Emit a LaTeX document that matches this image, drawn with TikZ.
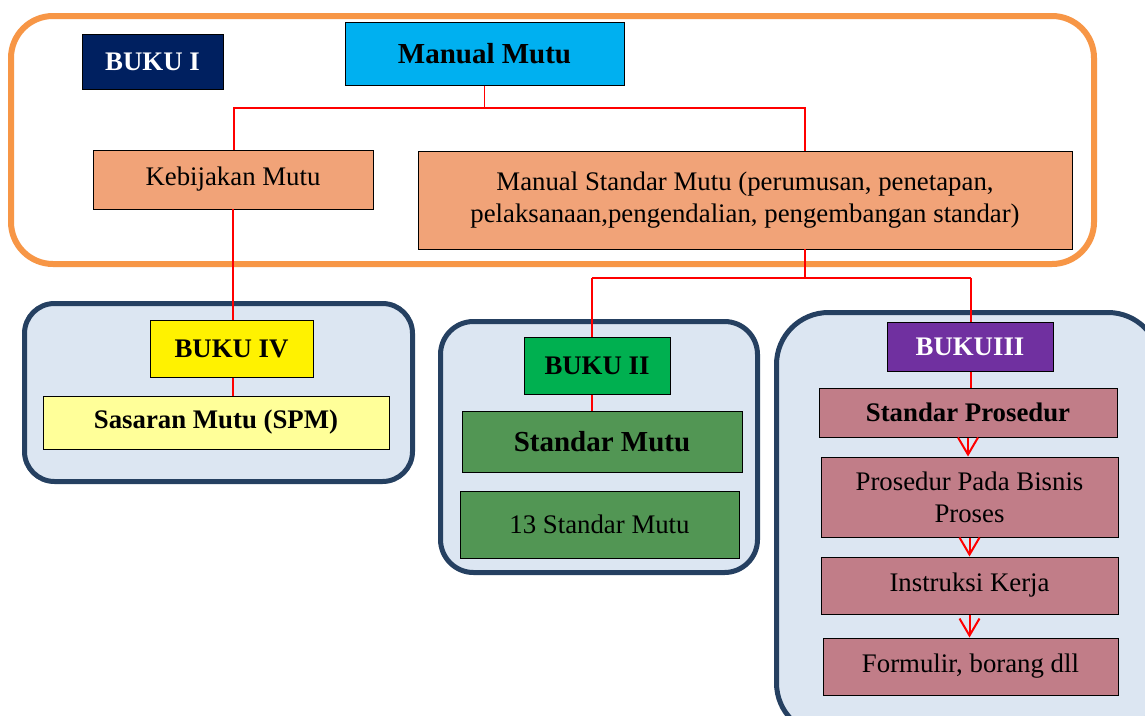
\documentclass[tikz,border=0pt]{standalone}
\usepackage{fontspec}
\setmainfont{Liberation Serif}
\usetikzlibrary{arrows.meta}

\definecolor{navyI}{HTML}{002060}
\definecolor{skyblue}{HTML}{00B0F0}
\definecolor{salmon}{HTML}{F1A378}
\definecolor{ornge}{HTML}{F79646}
\definecolor{frameblue}{HTML}{254061}
\definecolor{panelfill}{HTML}{DCE6F2}
\definecolor{lightyellow}{HTML}{FFFF99}
\definecolor{brightgreen}{HTML}{00B050}
\definecolor{midgreen}{HTML}{529654}
\definecolor{purpleIII}{HTML}{7030A0}
\definecolor{rose}{HTML}{C17D88}
\definecolor{linkred}{HTML}{FF0000}

\tikzset{
  box/.style={draw=black, line width=1pt, rectangle, inner sep=0pt, align=center,
    text=black, font=\fontsize{26.8}{32}\selectfont},
  boldbox/.style={box, font=\fontsize{26.8}{32}\selectfont\bfseries},
  panel/.style={draw=frameblue, line width=5pt, fill=panelfill},
  link/.style={draw=linkred, line width=1.5pt},
  flow/.style={draw=linkred, line width=2pt, -{Straight Barb[length=17pt,width=20pt,line width=2pt]}},
}

\begin{document}
\begin{tikzpicture}[x=1pt, y=-1pt]
\useasboundingbox (0,0) rectangle (1145,715);
\clip (0,0) rectangle (1145,715);
\fill[white] (0,0) rectangle (1145,715);

% containers
\draw[draw=ornge, line width=6pt, rounded corners=42pt] (11,16) rectangle (1094,264);
\draw[panel, rounded corners=30pt] (24.5,303.5) rectangle (412.5,481.5);
\draw[panel, rounded corners=33pt] (440.5,321.5) rectangle (757.5,572.5);
\draw[panel, rounded corners=52pt] (776.5,312.5) rectangle (1160,735);

% book I
\node[boldbox, fill=navyI, text=white, minimum width=141pt, minimum height=55pt] (bukuI) at (152.5,61.5) {BUKU I};
\node[boldbox, fill=skyblue, minimum width=279pt, minimum height=63pt, font=\fontsize{29}{33}\selectfont\bfseries] (manual) at (484.5,53.5) {Manual Mutu};
\node[box, fill=salmon, minimum width=280pt, minimum height=59pt] (kebijakan) at (233,179.5) {Kebijakan Mutu};
\node[box, fill=salmon, minimum width=654pt, minimum height=98pt] (msm) at (745,200)
  {Manual Standar Mutu (perumusan, penetapan,\\pelaksanaan,pengendalian, pengembangan standar)};

% book IV
\node[boldbox, fill=yellow, minimum width=163pt, minimum height=57pt] (bukuIV) at (231.5,348.5) {BUKU IV};
\node[boldbox, fill=lightyellow, minimum width=346pt, minimum height=53pt] (sasaran) at (216,422.5) {Sasaran Mutu (SPM)};

% book II
\node[boldbox, fill=brightgreen, minimum width=146pt, minimum height=57pt] (bukuII) at (597,365.5) {BUKU II};
\node[boldbox, fill=midgreen, minimum width=280pt, minimum height=61pt, font=\fontsize{29}{33}\selectfont\bfseries] (stdmutu) at (602,441.5) {Standar Mutu};
\node[box, fill=midgreen, minimum width=279pt, minimum height=67pt] (std13) at (599.5,524.5) {13 Standar Mutu};

% book III
\node[boldbox, fill=purpleIII, text=white, minimum width=166pt, minimum height=49pt] (bukuIII) at (970,346.5) {BUKUIII};
\node[boldbox, fill=rose, minimum width=298pt, minimum height=49pt] (stdpros) at (968,412.5) {Standar Prosedur};
\node[box, fill=rose, minimum width=297pt, minimum height=80pt] (bisnis) at (969.5,497) {Prosedur Pada Bisnis\\Proses};
\node[box, fill=rose, minimum width=297pt, minimum height=57pt] (instruksi) at (969.5,585.5) {Instruksi Kerja};
\node[box, fill=rose, minimum width=295pt, minimum height=57pt] (formulir) at (970.5,666.5) {Formulir, borang dll};

% branching from the quality manual
\coordinate (splitA) at (484.5,108);
\coordinate (kebTop) at (234,150);
\coordinate (msmTop) at (805,151);
\draw[link] (manual.south) -- (splitA);
\draw[link] (kebTop) |- (splitA) -| (msmTop);

% policy to book IV
\coordinate (kebBot) at (233,209);
\draw[link] (kebBot) -- (kebBot |- bukuIV.north);
\draw[link] (kebBot |- bukuIV.south) -- (kebBot |- sasaran.north);

% manual of standards to books II and III
\coordinate (msmBot) at (805,249);
\coordinate (splitB) at (805,278);
\coordinate (toII) at (592,278);
\coordinate (toIII) at (971,278);
\draw[link] (msmBot) -- (splitB);
\draw[link] (toII) -- (toIII);
\draw[link] (toII) -- (toII |- bukuII.north);
\draw[link] (toIII) -- (toIII |- bukuIII.north);
\draw[link] (toII |- bukuII.south) -- (toII |- stdmutu.north);
\draw[link] (toIII |- bukuIII.south) -- (toIII |- stdpros.north);

% procedure chain
\draw[flow] (stdpros.south) -- (stdpros.south |- bisnis.north);
\draw[flow] (bisnis.south) -- (bisnis.south |- instruksi.north);
\draw[flow] (instruksi.south) -- (instruksi.south |- formulir.north);
\end{tikzpicture}
\end{document}
